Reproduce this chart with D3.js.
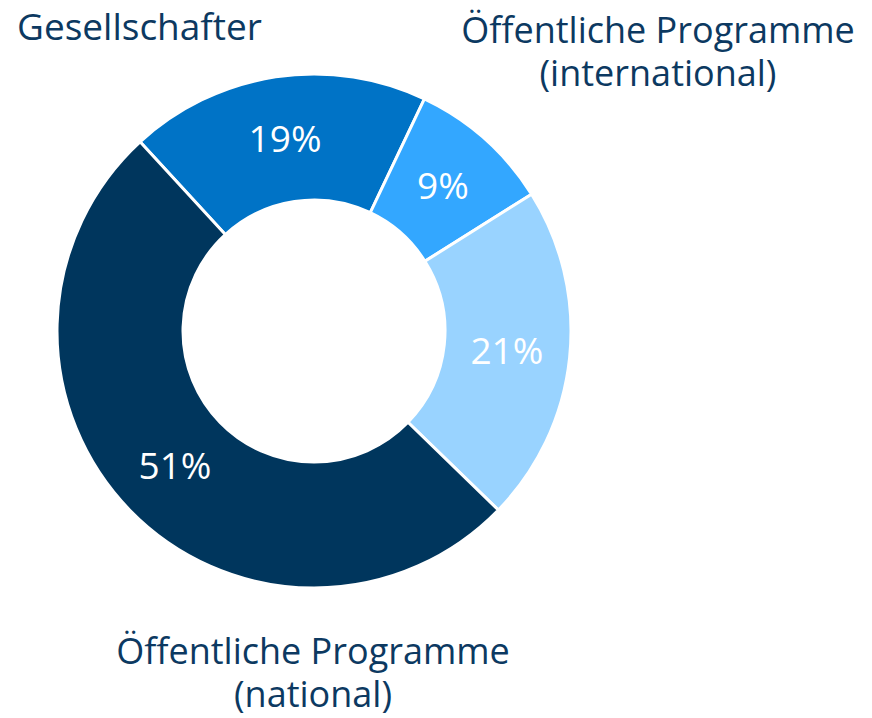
<!DOCTYPE html>
<html>
<head>
<meta charset="utf-8">
<script src="https://cdn.jsdelivr.net/npm/d3@7"></script>
<style>
  body { margin: 0; background: #fff; }
  text { font-family: "Open Sans", "Noto Sans", sans-serif; }
</style>
</head>
<body>
<svg width="872" height="718"></svg>
<script>
// slices, clockwise from the upper left
var categories = ["Gesellschafter", "Öffentliche Programme (international)", "", "Öffentliche Programme (national)"];
var shares = [18.9, 9.0, 21.2, 50.9];
var pctLabels = ["19%", "9%", "21%", "51%"];
var colors = ["#0073C6", "#33A7FF", "#99D3FF", "#00365D"];

// category labels as drawn (lines of text)
var labelLines = [
    ["Gesellschafter"],
    ["Öffentliche Programme", "(international)"],
    [],
    ["Öffentliche Programme", "(national)"]
];

var svg = d3.select("svg"),
    cx = 314,
    cy = 331,
    outerR = 257,
    innerR = 131;

var startA = -42.6 * Math.PI / 180;

var pie = d3.pie()
    .sort(null)
    .value(function(d) { return d; })
    .startAngle(startA)
    .endAngle(startA + 2 * Math.PI);

var arc = d3.arc()
    .innerRadius(innerR)
    .outerRadius(outerR);

var arcs = pie(shares);

var g = svg.append("g")
    .attr("transform", "translate(" + cx + "," + cy + ")");

g.selectAll("path")
    .data(arcs)
    .enter().append("path")
    .attr("d", arc)
    .attr("fill", function(d, i) { return colors[i]; })
    .attr("stroke", "#fff")
    .attr("stroke-width", 3);

g.selectAll("text.pct")
    .data(arcs)
    .enter().append("text")
    .attr("class", "pct")
    .attr("x", function(d) { return arc.centroid(d)[0]; })
    .attr("y", function(d) { return arc.centroid(d)[1] + 13; })
    .attr("text-anchor", "middle")
    .attr("fill", "#fff")
    .style("font-size", "37px")
    .text(function(d, i) { return pctLabels[i]; });

// where each category label sits
var labelPos = [
    {x: 17, y: 40, anchor: "start", size: 37},
    {x: 658, y: 43, anchor: "middle", size: 36},
    null,
    {x: 313, y: 664, anchor: "middle", size: 36}
];

labelLines.forEach(function(lines, i) {
    if (!labelPos[i]) return;
    var p = labelPos[i];
    lines.forEach(function(line, j) {
        svg.append("text")
            .attr("x", p.x)
            .attr("y", p.y + j * 43)
            .attr("text-anchor", p.anchor)
            .attr("fill", "#0C3961")
            .style("font-size", p.size + "px")
            .text(line);
    });
});
</script>
</body>
</html>
